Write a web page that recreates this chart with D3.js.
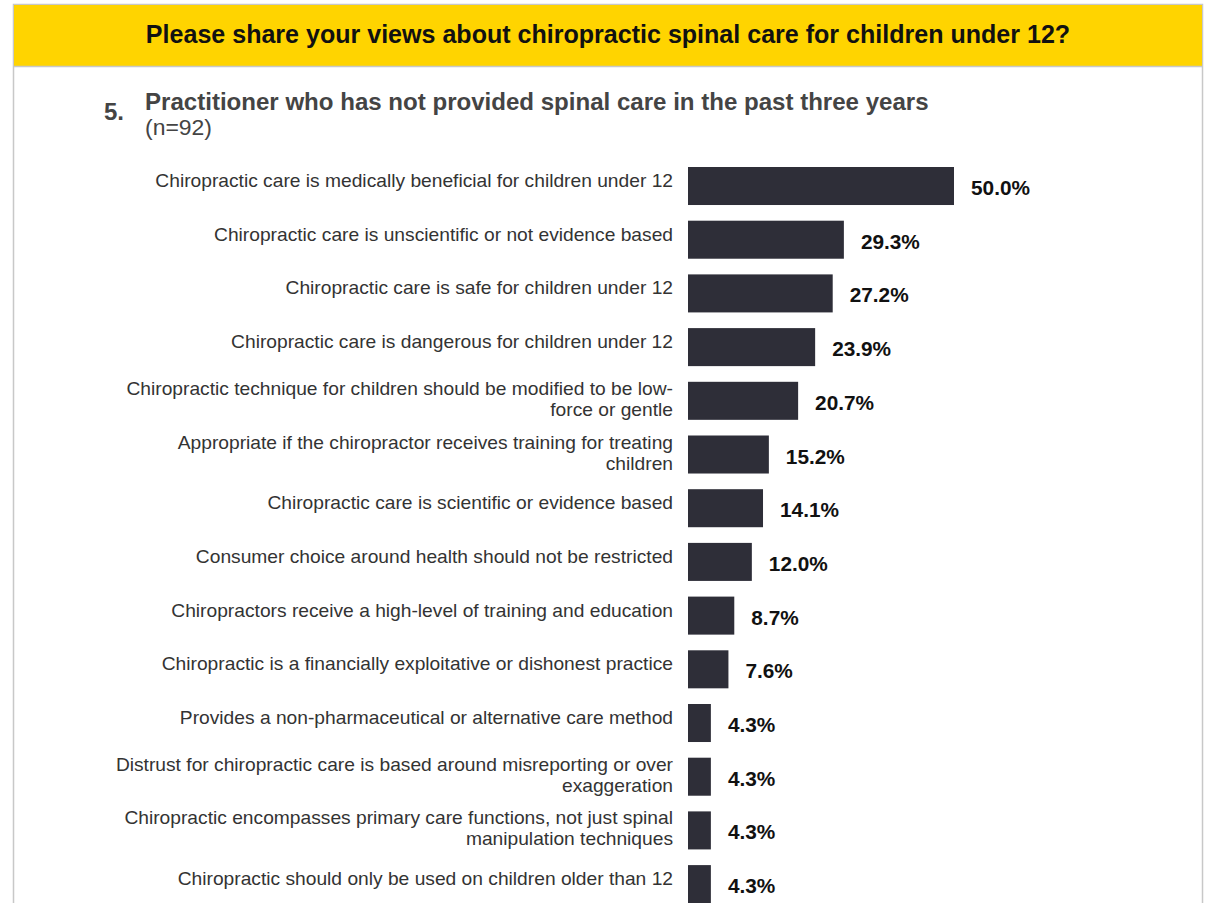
<!DOCTYPE html>
<html><head><meta charset="utf-8">
<script src="https://cdn.jsdelivr.net/npm/d3@7"></script>
<style>body{margin:0;background:#fff}svg{display:block}</style>
</head><body>
<svg id="c" width="1206" height="903"></svg>
<script>
const headerText = "Please share your views about chiropractic spinal care for children under 12?";
const questionNumber = "5.";
const titleText = "Practitioner who has not provided spinal care in the past three years";
const subtitleText = "(n=92)";
const categories = [
  ["Chiropractic care is medically beneficial for children under 12"],
  ["Chiropractic care is unscientific or not evidence based"],
  ["Chiropractic care is safe for children under 12"],
  ["Chiropractic care is dangerous for children under 12"],
  ["Chiropractic technique for children should be modified to be low-", "force or gentle"],
  ["Appropriate if the chiropractor receives training for treating", "children"],
  ["Chiropractic care is scientific or evidence based"],
  ["Consumer choice around health should not be restricted"],
  ["Chiropractors receive a high-level of training and education"],
  ["Chiropractic is a financially exploitative or dishonest practice"],
  ["Provides a non-pharmaceutical or alternative care method"],
  ["Distrust for chiropractic care is based around misreporting or over", "exaggeration"],
  ["Chiropractic encompasses primary care functions, not just spinal", "manipulation techniques"],
  ["Chiropractic should only be used on children older than 12"]
];
const values = [50.0, 29.3, 27.2, 23.9, 20.7, 15.2, 14.1, 12.0, 8.7, 7.6, 4.3, 4.3, 4.3, 4.3];

const svg = d3.select("#c");
const FONT = "'Liberation Sans', Arial, sans-serif";

// frame
svg.append("rect").attr("x", 13.5).attr("y", 4.5).attr("width", 1189).attr("height", 920)
  .attr("fill", "#fff").attr("stroke", "#c8c8c8").attr("stroke-width", 1.5);
svg.append("rect").attr("x", 14).attr("y", 5).attr("width", 1188).attr("height", 61).attr("fill", "#FFD400");
svg.append("line").attr("x1", 14).attr("x2", 1202).attr("y1", 66.5).attr("y2", 66.5).attr("stroke", "#c8c8c8").attr("stroke-width", 1.5);

function fitSize(sel, target, base) {
  const w = sel.node().getComputedTextLength();
  sel.attr("font-size", base * target / w);
}

const hdr = svg.append("text").attr("x", 608).attr("y", 43).attr("text-anchor", "middle")
  .attr("font-family", FONT).attr("font-weight", "bold").attr("font-size", 20).attr("fill", "#111").text(headerText);
fitSize(hdr, 925, 20);

svg.append("text").attr("x", 104).attr("y", 120).attr("font-family", FONT).attr("font-weight", "bold")
  .attr("font-size", 24).attr("fill", "#444").text(questionNumber);
const ttl = svg.append("text").attr("x", 145).attr("y", 110).attr("font-family", FONT).attr("font-weight", "bold")
  .attr("font-size", 20).attr("fill", "#444").text(titleText);
fitSize(ttl, 784, 20);
const sub = svg.append("text").attr("x", 145).attr("y", 135).attr("font-family", FONT)
  .attr("font-size", 17).attr("fill", "#444").text(subtitleText);
fitSize(sub, 67, 17);

// scales
const step = 53.7;
const x = d3.scaleLinear().domain([0, 50]).range([688, 954]);
const y = d3.scaleBand().domain(d3.range(categories.length))
  .range([167 - 0.146 * step, 167 + (categories.length - 0.146) * step])
  .paddingInner(0.292).paddingOuter(0.146);

// measure label fonts
const probe = svg.append("text").attr("font-family", FONT).attr("font-size", 16).text(categories[0][0]);
const labelSize = 16 * 518 / probe.node().getComputedTextLength();
probe.remove();
const valProbe = svg.append("text").attr("font-family", FONT).attr("font-weight", "bold").attr("font-size", 17).text("50.0%");
const valSize = 17 * 59 / valProbe.node().getComputedTextLength();
valProbe.remove();

const g = svg.append("g");
const rows = g.selectAll("g.row").data(values).join("g").attr("class", "row");
rows.append("rect")
  .attr("x", x(0)).attr("y", (d, i) => y(i))
  .attr("width", d => x(d) - x(0)).attr("height", y.bandwidth())
  .attr("fill", "#2e2e38");
rows.append("text")
  .attr("x", d => x(d) + 17).attr("y", (d, i) => y(i) + y.bandwidth() / 2 + 9)
  .attr("font-family", FONT).attr("font-weight", "bold").attr("font-size", valSize).attr("fill", "#111")
  .text(d => d.toFixed(1) + "%");
rows.each(function (d, i) {
  const lines = categories[i];
  const cy = y(i) + y.bandwidth() / 2;
  const lh = 21;
  const t = d3.select(this).append("text").attr("text-anchor", "end")
    .attr("font-family", FONT).attr("font-size", labelSize).attr("fill", "#333");
  const start = lines.length === 1 ? cy + 1 : cy - 6;
  lines.forEach((ln, k) => {
    t.append("tspan").attr("x", 673).attr("y", start + k * lh).text(ln);
  });
});
</script>
</body></html>
